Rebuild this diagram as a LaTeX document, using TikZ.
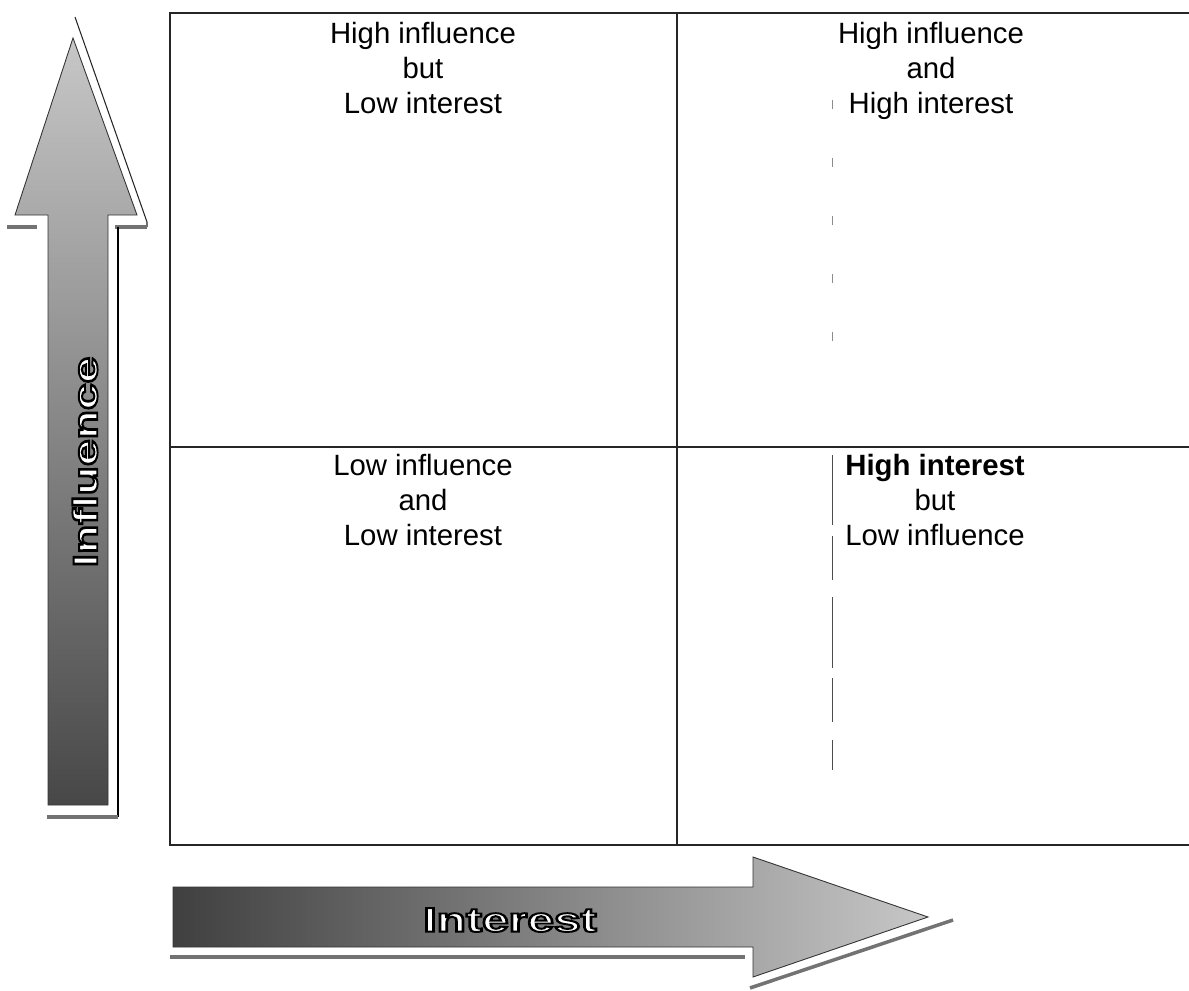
\documentclass[tikz,border=0pt]{standalone}
\usepackage{fontspec}
\setmainfont{Liberation Sans}
\usetikzlibrary{positioning}
% white letters with a black rim (text render mode 2)
\newcommand{\rimtext}[1]{\textcolor{white}{\special{pdf:literal direct 2 Tr 1.1 w 0 G}#1\special{pdf:literal direct 0 Tr}}}

\begin{document}
\begin{tikzpicture}[x=0.02cm,y=-0.02cm,
    quad/.style={align=center,inner sep=0pt,anchor=north,
		font=\fontsize{16.7}{20.1}\selectfont},
    axislabel/.style={inner sep=0pt,font=\bfseries\fontsize{19.5}{22}\selectfont},
    grid/.style={line width=1pt,draw=black!85},
    bar/.style={line width=2pt,draw=black!55},
    edge/.style={line width=0.6pt,draw=black!85},
% faint broken line in the right half
    scanline/.style={line width=0.5pt,draw=black!70,dash pattern=on 40pt off 6pt on 25pt off 10pt}
    ]
\useasboundingbox (0,0) rectangle (1189,990);
%%% Matrix frame
   \draw[grid] (1189,13) -- (170,13) -- (170,845) -- (1189,845);
   \draw[grid] (677,13) -- (677,845);
   \draw[grid] (170,447) -- (1189,447);
   \draw[scanline] (832,455) -- (832,770);
   \draw[scanline,draw=black!45,dash pattern=on 5pt off 28pt] (832,100) -- (832,380);

%%% Quadrant texts
   \node[quad] (hilo)  at (423,21.5)  {High influence\\but\\Low interest};
   \node[quad] (hihi)  at (931,21.5)  {High influence\\and\\High interest};
   \node[quad] (lolo)  at (423,453.5) {Low influence\\and\\Low interest};
   \node[quad] (lohi)  at (935,453.5) {\textbf{High interest}\\but\\Low influence};

%%% Influence arrow
   \draw[edge] (75,17) -- (147,222) -- (147,227);
   \draw[bar] (147,227) -- (115,227);
   \draw[bar] (7,227) -- (37,227);
   \draw[line width=1.2pt] (118,227) -- (118,817);
   \draw[bar] (118,817) -- (47,817);
   \shade[top color=black!22,bottom color=black!72,draw=black!80,line width=0.5pt]
      (48,805) -- (48,215) -- (15,215) -- (73,38) -- (137,215) -- (108,215) -- (108,805) -- cycle;
   \node[axislabel,rotate=90] (influence) at (85,462)
      {\scalebox{1.4}[1]{\rimtext{Influence}}};

%%% Interest arrow
   \draw[bar] (170,957) -- (745,957);
   \draw[bar] (750,988) -- (953,920);
   \shade[left color=black!75,right color=black!22,draw=black!80,line width=0.5pt]
      (173,887) -- (753,887) -- (753,857) -- (928,917) -- (753,977) -- (753,947) -- (173,947) -- cycle;
   \node[axislabel] (interest) at (510,920)
      {\scalebox{1.4}[1]{\rimtext{Interest}}};
\end{tikzpicture}
\end{document}
